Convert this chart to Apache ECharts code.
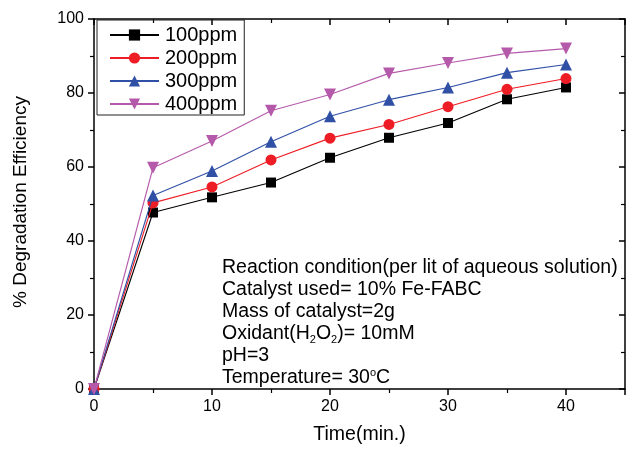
<!DOCTYPE html>
<html>
<head>
<meta charset="utf-8">
<script src="https://cdn.jsdelivr.net/npm/echarts@6/dist/echarts.min.js"></script>
<style>html,body{margin:0;padding:0;background:#fff;}#c{width:628px;height:450px;}</style>
</head>
<body>
<div id="c"></div>
<script>
var times = [0, 5, 10, 15, 20, 25, 30, 35, 40];
var ppm100 = [0, 47.7, 51.8, 55.8, 62.5, 67.9, 71.9, 78.3, 81.5];
var ppm200 = [0, 50.3, 54.6, 61.9, 67.8, 71.5, 76.3, 81.0, 83.9];
var ppm300 = [0, 52.3, 58.9, 66.8, 73.7, 78.2, 81.5, 85.5, 87.7];
var ppm400 = [0, 59.8, 67.0, 75.2, 79.6, 85.3, 88.1, 90.7, 92.0];
var seriesNames = ['100ppm', '200ppm', '300ppm', '400ppm'];
var xAxisTitle = 'Time(min.)';
var yAxisTitle = '% Degradation Efficiency';
var annotationLines = [
  'Reaction condition(per lit of aqueous solution)',
  'Catalyst used= 10% Fe-FABC',
  'Mass of catalyst=2g',
  'Oxidant(H{sub|2}O{sub|2})= 10mM',
  'pH=3',
  'Temperature= 30{sup|o}C'
];

var FONT = 'Liberation Sans, Arial, sans-serif';
function pairs(ys) { return times.map(function (t, i) { return [t, ys[i]]; }); }

var styles = [
  { color: '#000000', symbol: 'rect', size: 10, rot: 0 },
  { color: '#ee1c24', symbol: 'circle', size: 11, rot: 0 },
  { color: '#3050a6', symbol: 'triangle', size: 12, rot: 0 },
  { color: '#b55aab', symbol: 'triangle', size: 12, rot: 180 }
];
var allData = [ppm100, ppm200, ppm300, ppm400];

var chart = echarts.init(document.getElementById('c'), null, { renderer: 'canvas' });
var axisLineStyle = { color: '#000', width: 1.5 };
var minorStyle = { color: '#000', width: 1.2 };
chart.setOption({
  backgroundColor: '#fff',
  animation: false,
  textStyle: { fontFamily: FONT },
  grid: { left: 94, right: 1, top: 19, bottom: 55.5, containLabel: false },
  title: {
    left: 222, top: 257, padding: 0,
    text: annotationLines.join('\n'),
    textStyle: {
      fontFamily: FONT, fontSize: 19.5, fontWeight: 'normal', color: '#000', lineHeight: 22,
      rich: {
        sub: { fontFamily: FONT, fontSize: 11, color: '#000', verticalAlign: 'bottom', lineHeight: 10 },
        sup: { fontFamily: FONT, fontSize: 11, color: '#000', verticalAlign: 'top', lineHeight: 12 }
      }
    }
  },
  graphic: [{
    type: 'text', x: 21, y: 202, rotation: Math.PI / 2, silent: true,
    style: {
      text: yAxisTitle, fill: '#000',
      font: '19px ' + FONT,
      align: 'center', verticalAlign: 'middle'
    }
  }],
  legend: {
    orient: 'vertical', left: 97, top: 20,
    padding: [5, 7, 1, 12], itemGap: 3,
    itemWidth: 49, itemHeight: 14,
    borderColor: '#222', borderWidth: 1,
    textStyle: { fontFamily: FONT, fontSize: 20, color: '#000', padding: [0, 0, 0, 1] },
    data: seriesNames
  },
  xAxis: [{
    type: 'value', min: 0, max: 45, interval: 10,
    name: xAxisTitle, nameLocation: 'middle', nameGap: 36,
    nameTextStyle: { fontFamily: FONT, fontSize: 19.5, color: '#000' },
    axisLine: { show: true, onZero: false, lineStyle: axisLineStyle },
    axisTick: { show: true, inside: false, length: 6, lineStyle: axisLineStyle },
    minorTick: { show: true, splitNumber: 2, length: 4, lineStyle: minorStyle },
    axisLabel: { fontFamily: FONT, fontSize: 16, color: '#000', margin: 10,
      formatter: function (v) { return v > 40 ? '' : String(v); } },
    splitLine: { show: false }
  }, {
    type: 'value', min: 0, max: 45, interval: 10, position: 'top',
    axisLine: { show: true, onZero: false, lineStyle: axisLineStyle },
    axisTick: { show: true, inside: true, length: 6, lineStyle: axisLineStyle },
    minorTick: { show: true, splitNumber: 2, length: 4, lineStyle: minorStyle },
    axisLabel: { show: false },
    splitLine: { show: false }
  }],
  yAxis: [{
    type: 'value', min: 0, max: 100, interval: 20,
    axisLine: { show: true, onZero: false, lineStyle: axisLineStyle },
    axisTick: { show: true, inside: false, length: 6, lineStyle: axisLineStyle },
    minorTick: { show: true, splitNumber: 2, length: 4, lineStyle: minorStyle },
    axisLabel: { fontFamily: FONT, fontSize: 16, color: '#000', margin: 10 },
    splitLine: { show: false }
  }, {
    type: 'value', min: 0, max: 100, interval: 20, position: 'right',
    axisLine: { show: true, onZero: false, lineStyle: axisLineStyle },
    axisTick: { show: true, inside: true, length: 6, lineStyle: axisLineStyle },
    minorTick: { show: true, splitNumber: 2, length: 4, lineStyle: minorStyle },
    axisLabel: { show: false },
    splitLine: { show: false }
  }],
  series: seriesNames.map(function (n, i) {
    var s = styles[i];
    return {
      name: n, type: 'line', xAxisIndex: 0, yAxisIndex: 0,
      data: pairs(allData[i]),
      clip: false,
      symbol: s.symbol, symbolSize: s.size, symbolRotate: s.rot,
      showAllSymbol: true,
      lineStyle: { color: s.color, width: 1.1 },
      itemStyle: { color: s.color, borderColor: s.color, borderWidth: 0 },
      emphasis: { disabled: true },
      z: 2 + i
    };
  })
});
</script>
</body>
</html>
